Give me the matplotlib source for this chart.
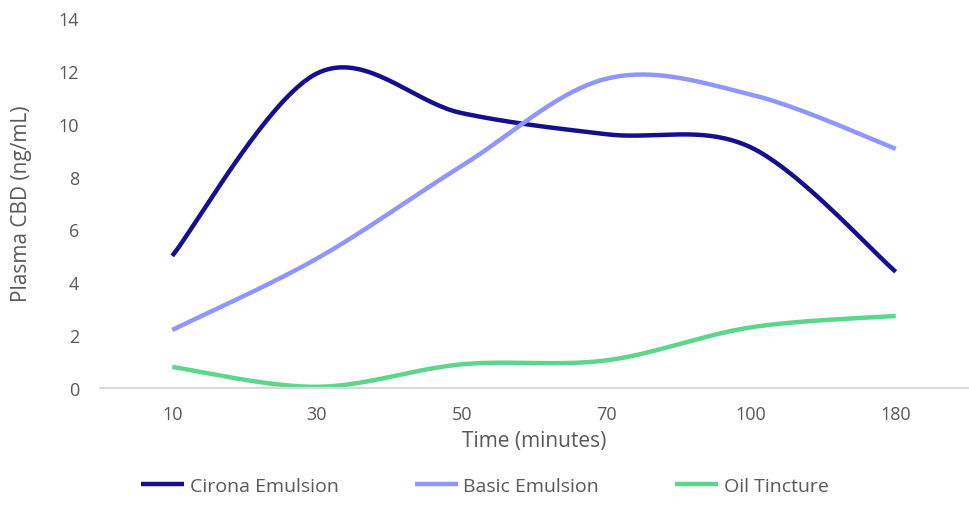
import numpy as np
import matplotlib.pyplot as plt

plt.rcParams['font.family'] = ['Open Sans', 'DejaVu Sans']

# Données
times = ["10", "30", "50", "70", "100", "180"]
cirona = [5.0, 11.9, 10.4, 9.6, 9.1, 4.4]
basic = [2.2, 4.9, 8.4, 11.7, 11.1, 9.05]
oil = [0.8, 0.05, 0.9, 1.05, 2.3, 2.73]

series_names = ["Cirona Emulsion", "Basic Emulsion", "Oil Tincture"]
colors = ["#150f8f", "#8f96ff", "#5cd68a"]
text_col = "#595959"


# Lissage façon Excel (Bézier cubique, type Catmull-Rom)
def smooth(xs, ys, n=40):
    xs = np.asarray(xs, float)
    ys = np.asarray(ys, float)
    px = np.concatenate([[xs[0]], xs, [xs[-1]]])
    py = np.concatenate([[ys[0]], ys, [ys[-1]]])
    out_x, out_y = [], []
    t = np.linspace(0, 1, n)
    for i in range(1, len(px) - 2):
        p0 = np.array([px[i], py[i]])
        p3 = np.array([px[i + 1], py[i + 1]])
        c1 = p0 + (np.array([px[i + 1], py[i + 1]]) - np.array([px[i - 1], py[i - 1]])) / 6
        c2 = p3 - (np.array([px[i + 2], py[i + 2]]) - p0) / 6
        b = ((1 - t) ** 3)[:, None] * p0 + (3 * (1 - t) ** 2 * t)[:, None] * c1 \
            + (3 * (1 - t) * t ** 2)[:, None] * c2 + (t ** 3)[:, None] * p3
        out_x.extend(b[:, 0])
        out_y.extend(b[:, 1])
    return np.array(out_x), np.array(out_y)


fig = plt.figure(figsize=(9.7, 5.1), dpi=100)
ax = fig.add_axes([0.103, 0.237, 0.895, 0.726])

x = np.arange(len(times))
handles = []
for vals, name, c in zip([cirona, basic, oil], series_names, colors):
    sx, sy = smooth(x, vals)
    h, = ax.plot(sx, sy, color=c, lw=3.2, solid_capstyle='butt', label=name)
    handles.append(h)

ax.set_xlim(-0.5, len(times) - 0.5)
ax.set_ylim(0, 14)
ax.set_yticks(range(0, 15, 2))
ax.set_xticks(x)
ax.set_xticklabels(times)
ax.tick_params(length=0, colors=text_col, labelsize=13)
ax.tick_params(axis='y', pad=15)
ax.tick_params(axis='x', pad=12)
for s in ['top', 'right', 'left']:
    ax.spines[s].set_visible(False)
ax.spines['bottom'].set_color('#d9d9d9')
ax.spines['bottom'].set_linewidth(1.5)

ax.set_xlabel("Time (minutes)", fontsize=15, color=text_col, labelpad=5)
ax.set_ylabel("Plasma CBD (ng/mL)", fontsize=15, color=text_col, labelpad=19)

fig.legend(handles=handles, loc='center', bbox_to_anchor=(0.5, 0.045), ncol=3,
           frameon=False, fontsize=14, labelcolor=text_col, handlelength=2.2,
           handletextpad=0.3, columnspacing=3.9)

fig.savefig("out.png", dpi=100)
